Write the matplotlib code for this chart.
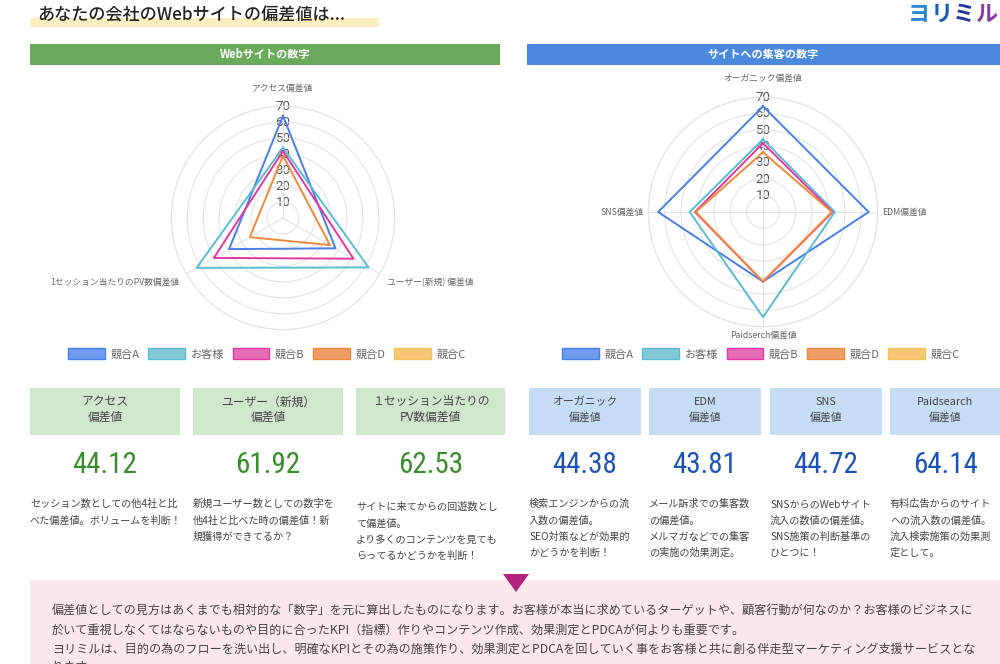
import matplotlib
matplotlib.use("Agg")
import matplotlib.pyplot as plt
import numpy as np
from matplotlib import font_manager
from matplotlib.patches import Rectangle, Polygon, Patch

plt.rcParams["font.family"] = ["Noto Sans CJK JP", "DejaVu Sans"]

W, H = 1000, 664

# ---- data -------------------------------------------------------------
SERIES = ["競合A", "お客様", "競合B", "競合D", "競合C"]
LINE_COLORS = ["#4a7fe6", "#5bbdd0", "#e0399f", "#ef8a3c", "#f5c260"]
FILL_COLORS = ["#6d9bee", "#82c8d7", "#e86bb5", "#ee9e6a", "#f7c674"]
R_TICKS = [10, 20, 30, 40, 50, 60, 70]

WEB_AXES = ["アクセス偏差値", "ユーザー(新規) 偏差値", "1セッション当たりのPV数偏差値"]
web_a = [64, 38, 39]
web_kyaku = [44.12, 61.92, 62.53]
web_b = [42, 51, 50]
web_d = [39, 34, 24]
web_c = []

TRAFFIC_AXES = ["オーガニック偏差値", "EDM偏差値", "Paidserch偏差値", "SNS偏差値"]
traffic_a = [64.5, 64.5, 42.5, 64]
traffic_kyaku = [44.38, 43.81, 64.14, 44.72]
traffic_b = [42, 42.5, 42.5, 41.5]
traffic_d = [36.5, 42, 42.5, 41]
traffic_c = []

WEB_TITLES = ["アクセス\n偏差値", "ユーザー（新規）\n偏差値", "１セッション当たりの\nPV数偏差値"]
WEB_NOTES = [
    "セッション数としての他4社と比\nべた偏差値。ボリュームを判断！",
    "新規ユーザー数としての数字を\n他4社と比べた時の偏差値！新\n規獲得ができてるか？",
    "サイトに来てからの回遊数とし\nて偏差値。\nより多くのコンテンツを見ても\nらってるかどうかを判断！",
]

TRAFFIC_TITLES = ["オーガニック\n偏差値", "EDM\n偏差値", "SNS\n偏差値", "Paidsearch\n偏差値"]
TRAFFIC_CARD_ORDER = [0, 1, 3, 2]
TRAFFIC_NOTES = [
    "検索エンジンからの流\n入数の偏差値。\nSEO対策などが効果的\nかどうかを判断！",
    "メール訴求での集客数\nの偏差値。\nメルマガなどでの集客\nの実施の効果測定。",
    "SNSからのWebサイト\n流入の数値の偏差値。\nSNS施策の判断基準の\nひとつに！",
    "有料広告からのサイト\nへの流入数の偏差値。\n流入検索施策の効果測\n定として。",
]

FOOTER_LINES = [
    "偏差値としての見方はあくまでも相対的な「数字」を元に算出したものになります。お客様が本当に求めているターゲットや、顧客行動が何なのか？お客様のビジネスに",
    "於いて重視しなくてはならないものや目的に合ったKPI（指標）作りやコンテンツ作成、効果測定とPDCAが何よりも重要です。",
    "ヨリミルは、目的の為のフローを洗い出し、明確なKPIとその為の施策作り、効果測定とPDCAを回していく事をお客様と共に創る伴走型マーケティング支援サービスとな",
    "ります。",
]

names = {f.name for f in font_manager.fontManager.ttflist}
NARROW = next((n for n in ["Liberation Sans Narrow", "Roboto Condensed", "Open Sans Condensed"]
               if n in names), "Roboto")

fig = plt.figure(figsize=(W / 100, H / 100), dpi=100)
bg = fig.add_axes([0, 0, 1, 1])
bg.set_xlim(0, W)
bg.set_ylim(H, 0)
bg.axis("off")

# ---- title + headers ---------------------------------------------------
bg.add_patch(Rectangle((30, 18), 349, 9, color="#fdeec0", lw=0))
bg.text(37, 16, "あなたの会社のWebサイトの偏差値は...", fontsize=12.3,
        fontweight="medium", color="#222222", va="center", ha="left")

logo_colors = ["#2b86d6", "#1a5db4", "#25399b", "#8a3ba3"]
for i, (ch, c) in enumerate(zip("ヨリミル", logo_colors)):
    bg.text(908 + i * 22.5, 26, ch, fontsize=16, fontweight="bold", color=c,
            ha="left", va="bottom")

bg.add_patch(Rectangle((30, 44), 470, 21, color="#69aa5b", lw=0))
bg.text(265, 54.5, "Webサイトの数字", color="white", fontsize=8, fontweight="bold",
        ha="center", va="center")
bg.add_patch(Rectangle((527, 44), 473, 21, color="#4a89dd", lw=0))
bg.text(763, 54.5, "サイトへの集客の数字", color="white", fontsize=8, fontweight="bold",
        ha="center", va="center")


# ---- radars ------------------------------------------------------------
def radar(cx, cy, rad, labels, series, label_pos):
    ax = fig.add_axes([(cx - rad) / W, 1 - (cy + rad) / H, 2 * rad / W, 2 * rad / H],
                      projection="polar")
    n = len(labels)
    theta = np.arange(n) * 2 * np.pi / n
    ax.set_theta_zero_location("N")
    ax.set_theta_direction(-1)
    ax.set_ylim(0, 70)
    ax.set_yticks(R_TICKS)
    ax.set_yticklabels([])
    ax.set_xticks(theta)
    ax.set_xticklabels([])
    ax.grid(color="#e4e4e4", lw=0.8)
    ax.spines["polar"].set_color("#e4e4e4")
    ax.spines["polar"].set_linewidth(0.8)
    ax.patch.set_alpha(0)
    for t in R_TICKS:
        ax.text(0, t, str(t), ha="center", va="center", fontsize=9.5,
                color="#555555", zorder=1, family="Roboto")
    for vals, color in zip(series, LINE_COLORS):
        if not vals:
            continue
        th = np.append(theta, theta[0])
        v = np.append(vals, vals[0])
        ax.plot(th, v, color=color, lw=1.4, zorder=3)
    for t, lab, (r, ha, va) in zip(theta, labels, label_pos):
        ax.text(t, r, lab, ha=ha, va=va, fontsize=6.3, color="#666666")
    return ax


radar(283, 218, 111.7, WEB_AXES, [web_a, web_kyaku, web_b, web_d, web_c],
      [(81.5, "center", "center"), (75, "left", "top"), (75, "right", "top")])
radar(763, 212, 114.7, TRAFFIC_AXES,
      [traffic_a, traffic_kyaku, traffic_b, traffic_d, traffic_c],
      [(81.7, "center", "center"), (73, "left", "center"),
       (75, "center", "center"), (73, "right", "center")])

handles = [Patch(facecolor=f, edgecolor=e, lw=1) for f, e in zip(FILL_COLORS, LINE_COLORS)]
for x in (267, 761):
    fig.legend(handles, SERIES, loc="center", bbox_to_anchor=(x / W, 1 - 354 / H),
               ncol=5, frameon=False, fontsize=8, handlelength=3.3, handleheight=1.1,
               handletextpad=0.5, columnspacing=0.8, labelcolor="#666666")


# ---- score cards -------------------------------------------------------
def card(x0, x1, fill, title, title_size, score, score_color, note, note_y):
    xc = (x0 + x1) / 2
    bg.add_patch(Rectangle((x0, 388), x1 - x0, 47, color=fill, lw=0))
    for i, line in enumerate(title.split("\n")):
        bg.text(xc, 402 + i * 15.5, line, ha="center", va="center",
                fontsize=title_size, color="#444444")
    bg.text(xc, 465, f"{score:.2f}", ha="center", va="center", fontsize=21,
            color=score_color, family=NARROW)
    for i, line in enumerate(note.split("\n")):
        bg.text(x0, note_y + i * 16.3, line, ha="left", va="center",
                fontsize=7.3, color="#444444")


web_cards = [(30, 180), (193, 343), (356, 505)]
for (x0, x1), title, val, note, ny in zip(web_cards, WEB_TITLES, web_kyaku, WEB_NOTES,
                                           [504, 504, 507]):
    card(x0, x1, "#d1e7cd", title, 8.5, val, "#3b8c2c", note, ny)

traffic_cards = [(529, 641), (649, 761), (770, 882), (890, 1001)]
for (x0, x1), title, idx, note in zip(traffic_cards, TRAFFIC_TITLES, TRAFFIC_CARD_ORDER,
                                      TRAFFIC_NOTES):
    card(x0, x1, "#c6ddf6", title, 7.8, traffic_kyaku[idx], "#1f52b6", note, 504)

# ---- footer ------------------------------------------------------------
bg.add_patch(Rectangle((30, 580), 970, 90, color="#fbe8ef", lw=0))
bg.add_patch(Polygon([(503, 574), (529, 574), (516, 592)], closed=True,
                     color="#b3237d", lw=0))
for i, line in enumerate(FOOTER_LINES):
    bg.text(52, 611 + i * 19, line, ha="left", va="center", fontsize=8.7,
            color="#444444")

fig.savefig("out.png", dpi=100)
